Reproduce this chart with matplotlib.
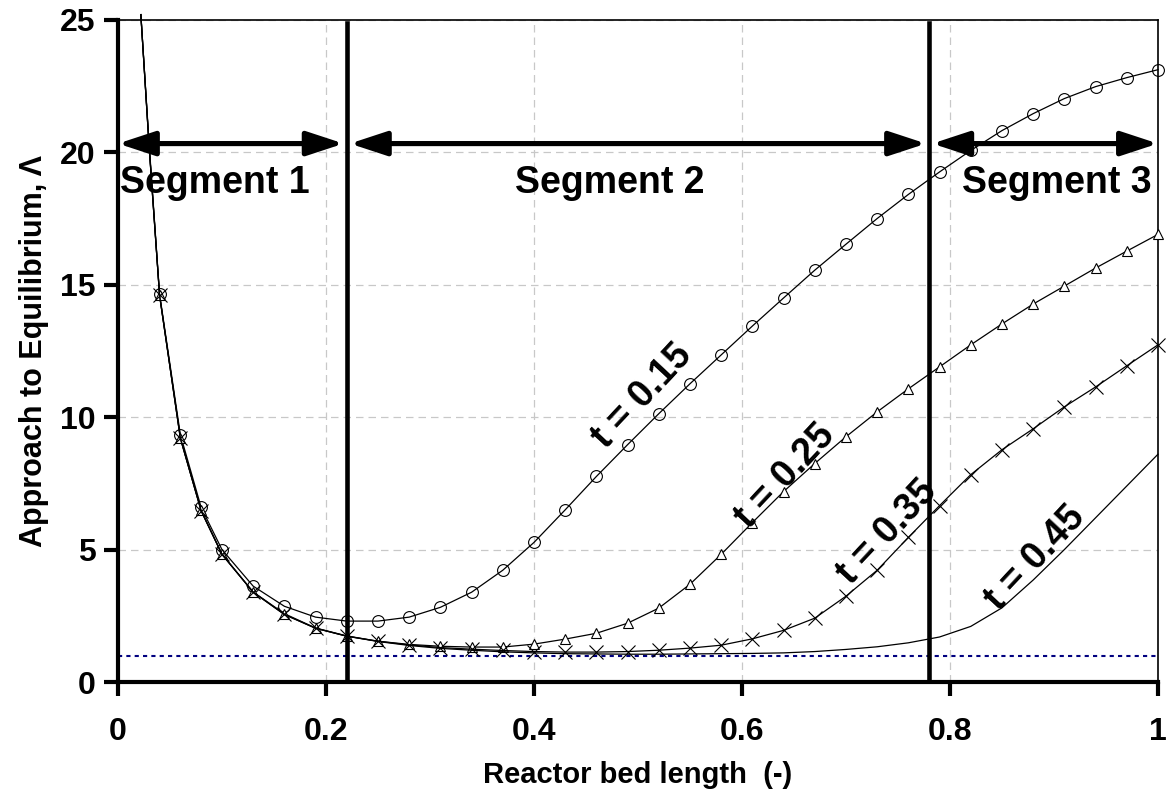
import matplotlib.pyplot as plt

plt.rcParams['font.family'] = ['Liberation Sans', 'DejaVu Sans']
plt.rcParams['font.weight'] = 'bold'

# Dimensionless bed position (first two points only carry the line, no marker)
x_bed = [0.022, 0.03, 0.04, 0.06, 0.08, 0.10, 0.13, 0.16, 0.19, 0.22, 0.25, 0.28,
         0.31, 0.34, 0.37, 0.40, 0.43, 0.46, 0.49, 0.52, 0.55, 0.58, 0.61, 0.64,
         0.67, 0.70, 0.73, 0.76, 0.79, 0.82, 0.85, 0.88, 0.91, 0.94, 0.97, 1.00]

# Approach to equilibrium at each dimensionless time
lam_t015 = [25.2, 20.3, 14.65, 9.34, 6.59, 5.0, 3.62, 2.86, 2.45, 2.30, 2.30, 2.45,
            2.82, 3.39, 4.22, 5.27, 6.50, 7.76, 8.96, 10.13, 11.26, 12.35, 13.44, 14.50,
            15.55, 16.53, 17.50, 18.41, 19.26, 20.07, 20.82, 21.46, 22.03, 22.48, 22.82, 23.12]
lam_t025 = [25.2, 20.2, 14.6, 9.22, 6.48, 4.83, 3.40, 2.58, 2.04, 1.74, 1.54, 1.42,
            1.35, 1.32, 1.32, 1.43, 1.62, 1.84, 2.22, 2.79, 3.69, 4.82, 6.02, 7.19,
            8.25, 9.26, 10.20, 11.07, 11.90, 12.73, 13.52, 14.27, 14.95, 15.63, 16.27, 16.90]
lam_t035 = [25.2, 20.2, 14.6, 9.20, 6.46, 4.82, 3.39, 2.55, 2.03, 1.73, 1.54, 1.40,
            1.30, 1.24, 1.19, 1.15, 1.13, 1.13, 1.15, 1.20, 1.28, 1.39, 1.63, 1.95,
            2.41, 3.24, 4.22, 5.46, 6.66, 7.83, 8.77, 9.56, 10.39, 11.14, 11.94, 12.73]
lam_t045 = [25.2, 20.2, 14.6, 9.20, 6.46, 4.82, 3.39, 2.55, 2.03, 1.73, 1.53, 1.38,
            1.27, 1.20, 1.14, 1.10, 1.07, 1.06, 1.05, 1.05, 1.06, 1.07, 1.08, 1.10,
            1.15, 1.23, 1.33, 1.48, 1.70, 2.10, 2.80, 3.85, 5.00, 6.20, 7.40, 8.60]

x_ticks = [0, 0.2, 0.4, 0.6, 0.8, 1.0]
x_ticklabels = ['0', '0.2', '0.4', '0.6', '0.8', '1']
y_ticks = [0, 5, 10, 15, 20, 25]

seg_bounds = [0.0, 0.22, 0.78, 1.0]
seg_names = ['Segment 1', 'Segment 2', 'Segment 3']
seg_text_x = [0.093, 0.473, 0.903]

curve_labels = ['t = 0.15', 't = 0.25', 't = 0.35', 't = 0.45']
curve_label_xy = [(0.504, 10.8), (0.642, 7.75), (0.740, 5.65), (0.882, 4.67)]

fig = plt.figure(figsize=(11.68, 7.96), dpi=100)
ax = fig.add_axes([0.101, 0.1432, 0.8904, 0.8318])

ax.set_xlim(0, 1)
ax.set_ylim(0, 25)
ax.grid(True, color='#c8c8c8', linestyle=(0, (6, 4)), linewidth=0.9)
ax.set_axisbelow(True)

# equilibrium reference
ax.axhline(1.0, color='#000080', linestyle=(0, (2, 2)), linewidth=1.5, zorder=2)

line_kw = dict(color='black', linewidth=0.9, mec='black', mew=0.8,
               markevery=slice(2, None), clip_on=False, zorder=4)
ax.plot(x_bed, lam_t015, marker='o', ms=8.5, mfc='none', **line_kw)
ax.plot(x_bed, lam_t025, marker='^', ms=7.5, mfc='white', **line_kw)
ax.plot(x_bed, lam_t035, marker='x', ms=9.5, **line_kw)
ax.plot(x_bed, lam_t045, color='black', linewidth=0.9, clip_on=False, zorder=4)

# segment boundaries
for xb in seg_bounds[1:3]:
    ax.plot([xb, xb], [0, 24.9], color='black', linewidth=3.3, zorder=5)

# segment span arrows and names
for i, name in enumerate(seg_names):
    x0 = seg_bounds[i] + (0.003 if i > 0 else 0)
    x1 = seg_bounds[i + 1] - (0.003 if i < 2 else 0)
    ax.annotate('', xy=(x1, 20.33), xytext=(x0, 20.33),
                arrowprops=dict(arrowstyle='<|-|>,head_length=1.4,head_width=0.46',
                                lw=3.7, color='black', shrinkA=0, shrinkB=0,
                                mutation_scale=16),
                annotation_clip=False, zorder=6)
    ax.text(seg_text_x[i], 18.45, name, ha='center', va='baseline',
            fontsize=27, fontweight='bold', zorder=6)

for label, (lx, ly) in zip(curve_labels, curve_label_xy):
    ax.text(lx, ly, label, ha='center', va='center', rotation=47,
            rotation_mode='anchor', fontsize=27, fontweight='bold', zorder=6)

ax.set_xticks(x_ticks)
ax.set_xticklabels(x_ticklabels)
ax.set_yticks(y_ticks)
ax.tick_params(axis='x', direction='out', length=10, width=3, pad=15, labelsize=23)
ax.tick_params(axis='y', direction='out', length=10, width=3, pad=6, labelsize=23)

for side in ['left', 'bottom']:
    ax.spines[side].set_linewidth(3)
for side in ['top', 'right']:
    ax.spines[side].set_linewidth(1.2)

ax.set_xlabel('Reactor bed length  (-)', fontsize=21, fontweight='bold', labelpad=10)
ax.set_ylabel('Approach to Equilibrium, Λ', fontsize=22, fontweight='bold', labelpad=8)

fig.savefig('out.png', dpi=100)
